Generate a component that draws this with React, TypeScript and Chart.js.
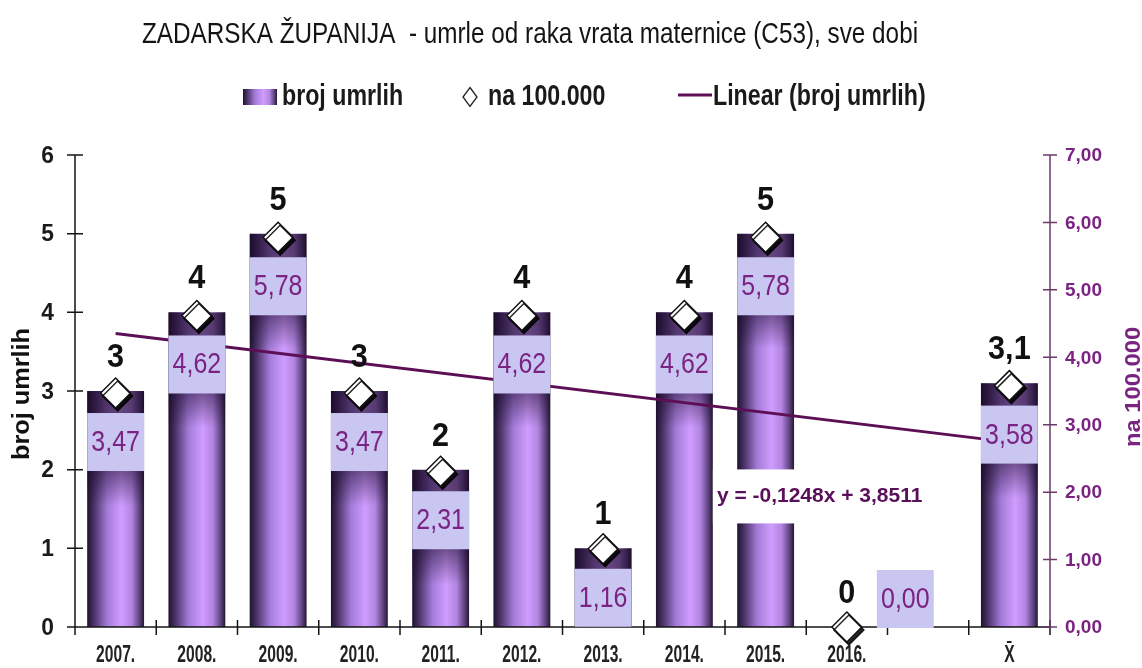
import { useEffect, useRef } from 'react';
import { Chart, registerables } from 'chart.js';

Chart.register(...registerables);

// ---------- data ----------
const categories = ['2007.', '2008.', '2009.', '2010.', '2011.', '2012.', '2013.', '2014.', '2015.', '2016.', '', 'X\u0304'];
const deaths = [3, 4, 5, 3, 2, 4, 1, 4, 5, 0, null, 3.1];
const ratePer100k = [3.47, 4.62, 5.78, 3.47, 2.31, 4.62, 1.16, 4.62, 5.78, 0.0, null, 3.58];
const trendLine = [3.73, null, null, null, null, null, null, null, null, null, null, 2.35];
const leftTicks = [0, 1, 2, 3, 4, 5, 6];
const rightTicks = [0, 1, 2, 3, 4, 5, 6, 7];
const titleText = 'ZADARSKA ŽUPANIJA  - umrle od raka vrata maternice (C53), sve dobi';
const equationText = 'y = -0,1248x + 3,8511';
const seriesNames = ['broj umrlih', 'na 100.000', 'Linear (broj umrlih)'];
const leftAxisTitle = 'broj umrlih';
const rightAxisTitle = 'na 100.000';

const FONT = '"Liberation Sans", Arial, sans-serif';
const PURPLE = '#7a2382';
const AXIS_PURPLE = '#6a3a6a';
const TREND = '#5c0f55';
const BOX_FILL = '#c9c6f2';

function fmtComma(v: number, digits?: number) {
  const s = digits === undefined ? String(v) : v.toFixed(digits);
  return s.replace('.', ',');
}

function drawText(
  ctx: CanvasRenderingContext2D,
  s: string,
  x: number,
  y: number,
  size: number,
  weight: string,
  color: string,
  align: CanvasTextAlign,
  sx: number,
  baseline: CanvasTextBaseline = 'alphabetic',
  rot = 0
) {
  ctx.save();
  ctx.font = `${weight} ${size}px ${FONT}`;
  ctx.fillStyle = color;
  ctx.textAlign = align;
  ctx.textBaseline = baseline;
  ctx.translate(x, y);
  if (rot) ctx.rotate(rot);
  ctx.scale(sx, 1);
  ctx.fillText(s, 0, 0);
  ctx.restore();
}

function barGradient(ctx: CanvasRenderingContext2D, x0: number, x1: number) {
  const g = ctx.createLinearGradient(x0, 0, x1, 0);
  g.addColorStop(0, '#1e1230');
  g.addColorStop(0.12, '#4a3266');
  g.addColorStop(0.35, '#a27ad6');
  g.addColorStop(0.6, '#cf9dff');
  g.addColorStop(0.78, '#b285e0');
  g.addColorStop(0.92, '#5e4280');
  g.addColorStop(1, '#24172f');
  return g;
}

const BAR = 0;
const DIAM = 1;

const decorPlugin = {
  id: 'decor',
  beforeDatasetDraw(chart: any, args: any) {
    if (args.index === DIAM) {
      const ctx = chart.ctx;
      ctx.save();
      ctx.shadowColor = 'rgba(0,0,0,0.85)';
      ctx.shadowOffsetX = 2;
      ctx.shadowOffsetY = 3;
      ctx.shadowBlur = 0;
    }
  },
  afterDatasetDraw(chart: any, args: any) {
    const ctx: CanvasRenderingContext2D = chart.ctx;
    if (args.index === DIAM) {
      ctx.restore();
      return;
    }
    if (args.index !== BAR) return;
    const area = chart.chartArea;
    const meta = chart.getDatasetMeta(BAR);
    meta.data.forEach((el: any, i: number) => {
      if (deaths[i] === null) return;
      const p = el.getProps(['x', 'y', 'base', 'width'], true);
      const h = p.base - p.y;
      if (!(h > 0) || !isFinite(p.y)) return;
      ctx.save();
      ctx.beginPath();
      ctx.rect(p.x - p.width / 2, p.y, p.width, h);
      ctx.clip();
      const g = ctx.createLinearGradient(0, p.y, 0, p.y + 115);
      g.addColorStop(0, 'rgba(25,8,40,0.62)');
      g.addColorStop(0.7, 'rgba(25,8,40,0.5)');
      g.addColorStop(1, 'rgba(25,8,40,0)');
      ctx.fillStyle = g;
      ctx.fillRect(p.x - p.width / 2, p.y, p.width, 115);
      ctx.restore();
    });

    const xs = chart.scales.x;
    const ys = chart.scales.y;
    const y1 = chart.scales.y1;
    ctx.save();
    ctx.lineWidth = 1.5;
    ctx.strokeStyle = '#151515';
    ctx.beginPath();
    ctx.moveTo(area.left, area.top);
    ctx.lineTo(area.left, area.bottom);
    leftTicks.forEach((v) => {
      const y = ys.getPixelForValue(v);
      ctx.moveTo(area.left - 8, y);
      ctx.lineTo(area.left + 8, y);
    });
    ctx.moveTo(area.left - 7, area.bottom);
    ctx.lineTo(area.right, area.bottom);
    for (let i = 0; i <= categories.length; i++) {
      const x = xs.getPixelForValue(i - 0.5);
      ctx.moveTo(x, area.bottom - 7);
      ctx.lineTo(x, area.bottom + 8);
    }
    ctx.stroke();
    ctx.strokeStyle = AXIS_PURPLE;
    ctx.beginPath();
    ctx.moveTo(area.right, area.top);
    ctx.lineTo(area.right, area.bottom);
    rightTicks.forEach((v) => {
      const y = y1.getPixelForValue(v);
      ctx.moveTo(area.right - 7, y);
      ctx.lineTo(area.right + 7, y);
    });
    ctx.stroke();
    ctx.restore();
  },
  afterDatasetsDraw(chart: any) {
    const ctx: CanvasRenderingContext2D = chart.ctx;
    const area = chart.chartArea;
    const xs = chart.scales.x;
    const ys = chart.scales.y;
    const y1 = chart.scales.y1;
    const barMeta = chart.getDatasetMeta(BAR);
    const diamMeta = chart.getDatasetMeta(DIAM);

    diamMeta.data.forEach((el: any, i: number) => {
      const v = ratePer100k[i];
      if (v === null) return;
      const p = el.getProps(['x', 'y'], true);
      const bw = barMeta.data[i] ? barMeta.data[i].getProps(['width'], true).width : 57;
      const bh = 58;
      let bx = p.x - bw / 2;
      let by = p.y + 20;
      if (by >= area.bottom) {
        bx = p.x + 30;
        by = area.bottom - 57;
      }
      ctx.fillStyle = BOX_FILL;
      ctx.fillRect(bx, by, bw, bh);
      drawText(ctx, fmtComma(v, 2), bx + bw / 2, by + bh / 2 + 1, 29, 'normal', PURPLE, 'center', 0.86, 'middle');
    });

    barMeta.data.forEach((el: any, i: number) => {
      const v = deaths[i];
      if (v === null) return;
      const p = el.getProps(['x', 'y'], true);
      drawText(ctx, fmtComma(v), p.x, p.y - 24, 34, 'bold', '#111111', 'center', 0.9);
    });

    const ex = xs.getPixelForValue(7.4);
    const ey = ys.getPixelForValue(1.66);
    ctx.save();
    ctx.font = `bold 21px ${FONT}`;
    const ew = ctx.measureText(equationText).width;
    ctx.restore();
    ctx.fillStyle = '#ffffff';
    ctx.fillRect(ex - 4, ey - 27, ew + 10, 54);
    drawText(ctx, equationText, ex, ey, 21, 'bold', '#5a0f5a', 'left', 1, 'middle');

    leftTicks.forEach((v) => {
      drawText(ctx, String(v), area.left - 21, ys.getPixelForValue(v) + 1, 24, 'bold', '#1a1a1a', 'right', 0.95, 'middle');
    });
    rightTicks.forEach((v) => {
      drawText(ctx, fmtComma(v, 2), area.right + 15, y1.getPixelForValue(v) + 1, 19, 'bold', PURPLE, 'left', 1, 'middle');
    });
    categories.forEach((c, i) => {
      if (!c) return;
      drawText(ctx, c, xs.getPixelForValue(i), area.bottom + 28, 24, 'bold', '#222222', 'center', 0.65, 'middle');
    });

    drawText(ctx, leftAxisTitle, 29, (area.top + area.bottom) / 2 + 3, 23, 'bold', '#111111', 'center', 1.1, 'alphabetic', -Math.PI / 2);
    drawText(ctx, rightAxisTitle, 1140, (area.top + area.bottom) / 2 - 4, 22, 'bold', PURPLE, 'center', 1.08, 'alphabetic', -Math.PI / 2);

    drawText(ctx, titleText, 142, 43, 30, 'normal', '#141414', 'left', 0.81);

    const ly = 105;
    ctx.fillStyle = barGradient(ctx, 243, 277);
    ctx.fillRect(243, 89, 34, 16);
    drawText(ctx, seriesNames[0], 282, ly, 29, 'bold', '#1a1a1a', 'left', 0.8);
    ctx.save();
    ctx.strokeStyle = '#222222';
    ctx.fillStyle = '#ffffff';
    ctx.lineWidth = 1.3;
    ctx.beginPath();
    ctx.moveTo(470, 87.5);
    ctx.lineTo(477, 97);
    ctx.lineTo(470, 106.5);
    ctx.lineTo(463, 97);
    ctx.closePath();
    ctx.fill();
    ctx.stroke();
    ctx.restore();
    drawText(ctx, seriesNames[1], 488, ly, 29, 'bold', '#1a1a1a', 'left', 0.8);
    ctx.save();
    ctx.strokeStyle = TREND;
    ctx.lineWidth = 3;
    ctx.beginPath();
    ctx.moveTo(678, 95);
    ctx.lineTo(712, 95);
    ctx.stroke();
    ctx.restore();
    drawText(ctx, seriesNames[2], 713, ly, 29, 'bold', '#1a1a1a', 'left', 0.8);
  },
};

export default function App() {
  const ref = useRef<HTMLCanvasElement | null>(null);

  useEffect(() => {
    document.body.style.margin = '0';
    document.body.style.background = '#ffffff';
    const canvas = ref.current;
    if (!canvas) return;
    const chart = new Chart(canvas, {
      type: 'bar',
      data: {
        labels: categories,
        datasets: [
          {
            type: 'bar',
            label: seriesNames[0],
            data: deaths,
            yAxisID: 'y',
            order: 3,
            barPercentage: 0.7,
            categoryPercentage: 1,
            backgroundColor: (c: any) => {
              const ch = c.chart;
              const xs = ch.scales && ch.scales.x;
              if (!xs || typeof c.dataIndex !== 'number') return '#b285e0';
              const cx = xs.getPixelForValue(c.dataIndex);
              const w = (xs.width / categories.length) * 0.7;
              if (!isFinite(cx) || !isFinite(w) || w <= 0) return '#b285e0';
              return barGradient(ch.ctx, cx - w / 2, cx + w / 2);
            },
            borderWidth: 0,
          } as any,
          {
            type: 'line',
            label: seriesNames[1],
            data: ratePer100k,
            yAxisID: 'y1',
            order: 1,
            showLine: false,
            pointStyle: 'rectRot',
            pointRadius: 15,
            pointBackgroundColor: '#ffffff',
            pointBorderColor: '#111111',
            pointBorderWidth: 1.5,
            clip: false,
          } as any,
          {
            type: 'line',
            label: seriesNames[2],
            data: trendLine,
            yAxisID: 'y',
            order: 2,
            spanGaps: true,
            borderColor: TREND,
            borderWidth: 3,
            pointRadius: 0,
            fill: false,
          } as any,
        ],
      },
      options: {
        responsive: false,
        devicePixelRatio: 1,
        animation: false,
        events: [],
        layout: { padding: { left: 75, right: 92, top: 155, bottom: 41 } },
        plugins: {
          legend: { display: false },
          title: { display: false },
          tooltip: { enabled: false },
        },
        scales: {
          x: { display: false, offset: true },
          y: { display: false, min: 0, max: 6 },
          y1: { display: false, min: 0, max: 7, position: 'right' },
        },
      } as any,
      plugins: [decorPlugin],
    });
    return () => chart.destroy();
  }, []);

  return (
    <div style={{ width: 1142, height: 668, background: '#ffffff' }}>
      <canvas ref={ref} width={1142} height={668} style={{ display: 'block' }} />
    </div>
  );
}
